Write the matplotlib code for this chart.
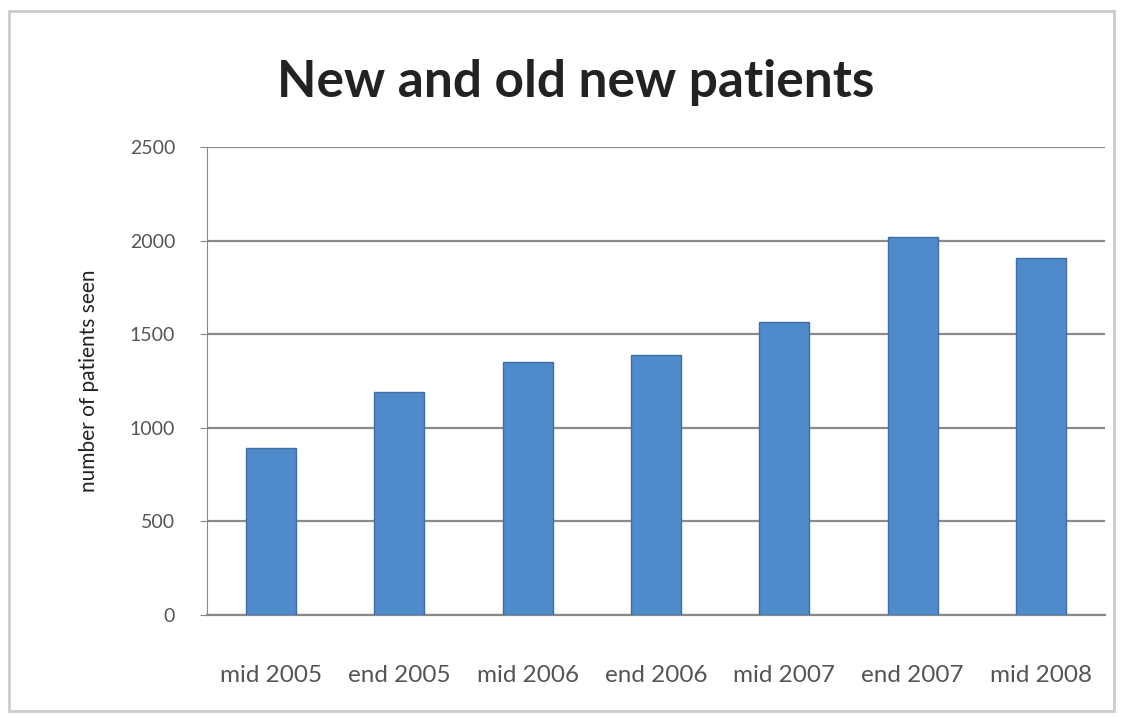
import matplotlib.pyplot as plt

categories = ["mid 2005", "end 2005", "mid 2006", "end 2006", "mid 2007", "end 2007", "mid 2008"]
patients = [890, 1190, 1350, 1390, 1565, 2020, 1910]
y_ticks = [0, 500, 1000, 1500, 2000, 2500]

plt.rcParams['font.family'] = ['Lato', 'DejaVu Sans']

fig = plt.figure(figsize=(11.22, 7.18), dpi=100)
ax = fig.add_axes([0.1845, 0.1435, 0.8005, 0.6515])

x = range(len(categories))
ax.bar(x, patients, width=0.39, color='#4F8ACB', edgecolor='#3F6FA3', linewidth=1.0, zorder=3)

ax.set_xlim(-0.5, len(categories) - 0.5)
ax.set_ylim(0, 2500)
ax.set_yticks(y_ticks)
ax.set_yticklabels([str(t) for t in y_ticks], color='#555555', fontsize=14)
ax.set_xticks(list(x))
ax.set_xticklabels(categories, color='#555555', fontsize=17.5)
ax.tick_params(axis='x', length=0, pad=36)
ax.tick_params(axis='y', length=5, color='#888888', pad=18)

ax.grid(axis='y', color='#8a8a8a', linewidth=1.6, zorder=0)
for side in ['top', 'right']:
    ax.spines[side].set_visible(False)
ax.spines['left'].set_color('#888888')
ax.spines['bottom'].set_color('#888888')
ax.spines['bottom'].set_linewidth(1.6)

ax.set_ylabel('number of patients seen', fontsize=15, color='#222222', labelpad=22)
fig.text(0.513, 0.885, 'New and old new patients', ha='center', va='center',
         fontsize=37, fontweight='bold', color='#222222')

# light chart frame
fig.patches.append(plt.Rectangle((0.008, 0.01), 0.985, 0.975, transform=fig.transFigure,
                                 fill=False, edgecolor='#cccccc', linewidth=2))

fig.savefig('out.png', dpi=100)
